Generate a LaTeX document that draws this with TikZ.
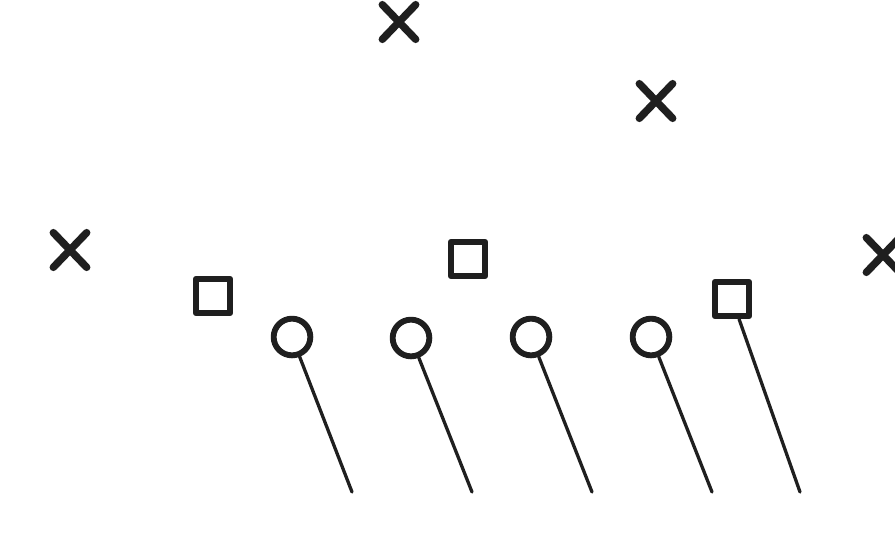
\documentclass[tikz,border=0pt]{standalone}
\usetikzlibrary{shapes.misc}
\begin{document}
\begin{tikzpicture}[x=0.03cm, y=-0.03cm, line cap=round, line join=round]
% play diagram
\def\markln{6.4pt}
\providecommand{\playInk}{black!88}
\tikzset{
  defender/.style={cross out, draw=\playInk, line width=\markln, minimum width=1.0cm, minimum height=1.04cm, inner sep=0pt, outer sep=0pt},
  lineman/.style={circle, draw=\playInk, line width=5pt, minimum size=1.1cm, inner sep=0pt},
  back/.style={rectangle, draw=\playInk, line width=5.4pt, minimum size=1.02cm, inner sep=0pt},
  route/.style={draw=\playInk, line width=2.8pt}
}
\useasboundingbox (0,0) rectangle (895,548);
\clip (0,0) rectangle (895,548);
\fill[white] (0,0) rectangle (895,548);
% Defence
\node[defender] (x1) at (399,22) {};
\node[defender] (x2) at (656,101) {};
\node[defender] (x3) at (70,250) {};
\node[defender] (x4) at (883,255) {};
% Backs
\node[back] (s1) at (213,296) {};
\node[back] (s2) at (468,259) {};
\node[back] (s3) at (732,299) {};
% Line
\node[lineman] (o1) at (292,337) {};
\node[lineman] (o2) at (411,338) {};
\node[lineman] (o3) at (531,337) {};
\node[lineman] (o4) at (651,337) {};
% Route ends
\coordinate (e1) at (352,492);
\coordinate (e2) at (472,492);
\coordinate (e3) at (592,492);
\coordinate (e4) at (712,492);
\coordinate (e5) at (800,492);
% Routes
\begin{scope}[route]
  \draw (o1) -- (e1);
  \draw (o2) -- (e2);
  \draw (o3) -- (e3);
  \draw (o4) -- (e4);
  \draw (s3) -- (e5);
\end{scope}
\end{tikzpicture}
\end{document}
